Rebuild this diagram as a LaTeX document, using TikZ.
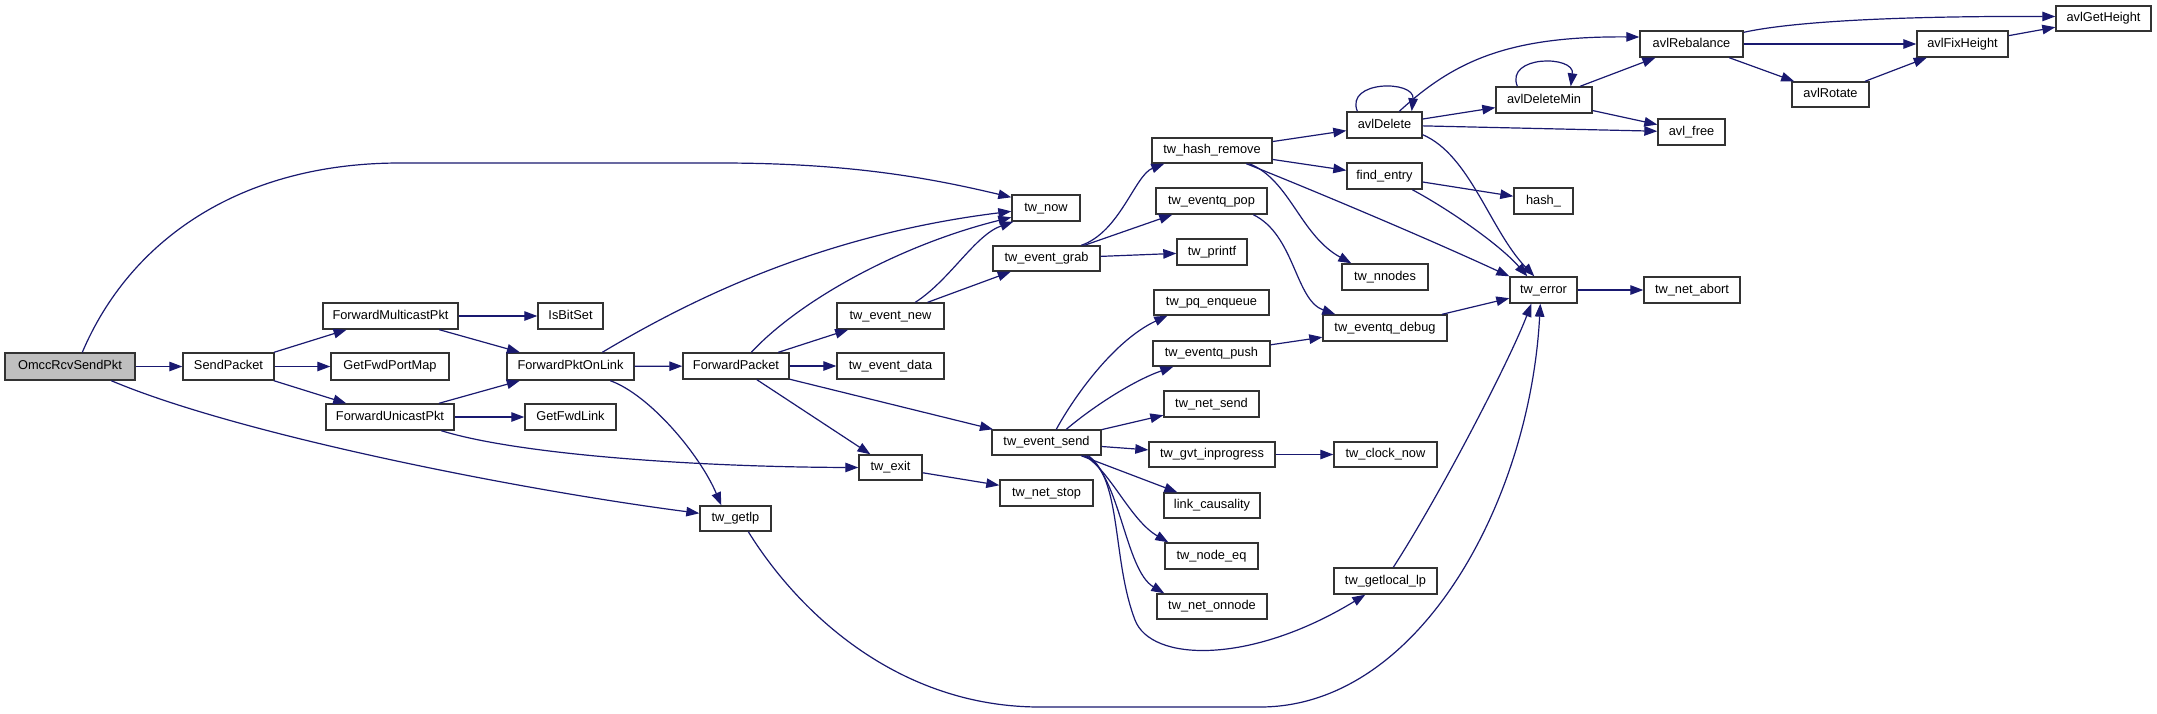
\documentclass[tikz,border=0pt]{standalone}
\usepackage{fontspec}
\setmainfont{Liberation Sans}
\usetikzlibrary{arrows.meta,calc}
\definecolor{edgec}{HTML}{191970}
\definecolor{rootfill}{HTML}{BFBFBF}
\newcommand\bx[7][]{\node[box,#1,minimum width={(#5)-(#3)},minimum height={(#6)-(#4)}] (#2) at ({((#3)+(#5))/2},{((#4)+(#6))/2}) {#7};}
\begin{document}
\begin{tikzpicture}[x=1pt,y=-1pt,
  box/.style={draw=black!80, line width=1.4pt, fill=white, inner sep=0pt,
    font=\fontsize{12.8}{14}\selectfont, text height=9.3pt, text depth=2.7pt},
  edge/.style={draw=edgec, line width=1.2pt, -{Triangle[length=13pt,width=9.5pt]}},
]
\useasboundingbox (0,0) rectangle (2157,713);
\fill[white] (0,0) rectangle (2157,713);

\bx[fill=rootfill]{orn}{5}{353}{135}{380}{OmccRcvSendPkt}
\bx{send}{183}{353}{274}{380}{SendPacket}
\bx{fmc}{323}{303}{458}{329}{ForwardMulticastPkt}
\bx{gfpm}{331}{353}{449}{380}{GetFwdPortMap}
\bx{fuc}{326}{404}{454}{430}{ForwardUnicastPkt}
\bx{isb}{538}{303}{603}{329}{IsBitSet}
\bx{fpol}{507}{353}{634}{380}{ForwardPktOnLink}
\bx{gfl}{525}{404}{616}{430}{GetFwdLink}
\bx{fp}{683}{353}{789}{379}{ForwardPacket}
\bx{twnow}{1012}{195}{1080}{221}{tw\_now}
\bx{evnew}{837}{303}{944}{329}{tw\_event\_new}
\bx{evdata}{837}{353}{944}{379}{tw\_event\_data}
\bx{exit}{859}{455}{922}{480}{tw\_exit}
\bx{getlp}{700}{506}{771}{531}{tw\_getlp}
\bx{grab}{993}{246}{1100}{271}{tw\_event\_grab}
\bx{evsend}{992}{430}{1101}{455}{tw\_event\_send}
\bx{netstop}{1000}{480}{1093}{506}{tw\_net\_stop}
\bx{hashrm}{1152}{138}{1272}{163}{tw\_hash\_remove}
\bx{qpop}{1156}{188}{1267}{214}{tw\_eventq\_pop}
\bx{printf}{1177}{239}{1247}{265}{tw\_printf}
\bx{pqenq}{1154}{290}{1269}{315}{tw\_pq\_enqueue}
\bx{qpush}{1153}{341}{1270}{366}{tw\_eventq\_push}
\bx{netsend}{1164}{391}{1259}{417}{tw\_net\_send}
\bx{gvt}{1149}{442}{1275}{467}{tw\_gvt\_inprogress}
\bx{link}{1164}{493}{1260}{518}{link\_causality}
\bx{nodeeq}{1165}{543}{1258}{569}{tw\_node\_eq}
\bx{onnode}{1157}{594}{1267}{619}{tw\_net\_onnode}
\bx{avldel}{1347}{112}{1422}{138}{avlDelete}
\bx{find}{1347}{163}{1422}{189}{find\_entry}
\bx{nnodes}{1342}{264}{1428}{290}{tw\_nnodes}
\bx{qdebug}{1323}{315}{1447}{341}{tw\_eventq\_debug}
\bx{clock}{1334}{442}{1437}{467}{tw\_clock\_now}
\bx{getlocal}{1334}{568}{1437}{594}{tw\_getlocal\_lp}
\bx{avldm}{1496}{87}{1592}{113}{avlDeleteMin}
\bx{hash}{1514}{188}{1573}{214}{hash\_}
\bx{err}{1510}{277}{1577}{303}{tw\_error}
\bx{avlreb}{1640}{31}{1743}{57}{avlRebalance}
\bx{avlfree}{1658}{119}{1725}{145}{avl\_free}
\bx{avlrot}{1792}{82}{1869}{107}{avlRotate}
\bx{avlfix}{1917}{31}{2008}{57}{avlFixHeight}
\bx{abort}{1644}{277}{1740}{303}{tw\_net\_abort}
\bx{avlgh}{2056}{6}{2151}{31}{avlGetHeight}

% OmccRcvSendPkt
\draw[edge] (orn) -- (send);
\draw[edge] ($(orn.north west)+(78,0)$) .. controls (130,240) and (240,163) .. (400,163) -- (720,163) .. controls (850,163) and (930,178) .. ($(twnow.north west)+(0,3)$);
\draw[edge] ($(orn.south west)+(107,0)$) .. controls (240,435) and (520,490) .. ($(getlp.north west)+(0,8)$);
% SendPacket
\draw[edge] (send) -- (fmc);
\draw[edge] (send) -- (gfpm);
\draw[edge] (send) -- (fuc);
% ForwardMulticastPkt / ForwardUnicastPkt
\draw[edge] (fmc) -- (isb);
\draw[edge] (fmc) -- (fpol);
\draw[edge] (fuc) -- (fpol);
\draw[edge] (fuc) -- (gfl);
\draw[edge] ($(fuc.south west)+(116,0)$) .. controls (520,455) and (700,467) .. (exit.west);
% ForwardPktOnLink
\draw[edge] (fpol) -- (fp);
\draw[edge] ($(fpol.north west)+(96,0)$) .. controls (690,300) and (820,235) .. ($(twnow.north west)+(0,17)$);
\draw[edge] ($(fpol.south west)+(104,0)$) .. controls (650,395) and (700,455) .. ($(getlp.north west)+(22,0)$);
% ForwardPacket
\draw[edge] (fp) -- (evnew);
\draw[edge] (fp) -- (evdata);
\draw[edge] (fp) -- (exit);
\draw[edge] (fp) -- (evsend);
\draw[edge] ($(fp.north west)+(69,0)$) .. controls (800,300) and (900,245) .. ($(twnow.north west)+(0,23)$);
% tw_event_new
\draw[edge] ($(evnew.north west)+(79,0)$) .. controls (950,280) and (975,235) .. ($(twnow.south west)+(2,0)$);
\draw[edge] (evnew) -- (grab);
% tw_event_grab
\draw[edge] ($(grab.north west)+(89,0)$) .. controls (1120,232) and (1135,175) .. ($(hashrm.south west)+(13,0)$);
\draw[edge] (grab) -- (qpop);
\draw[edge] (grab) -- (printf);
% tw_exit, tw_getlp
\draw[edge] (exit) -- (netstop);
\draw[edge] ($(getlp.south west)+(49,0)$) .. controls (800,615) and (900,707) .. (1040,707) -- (1260,707) .. controls (1420,707) and (1530,500) .. ($(err.south west)+(31,0)$);
% tw_event_send
\draw[edge] ($(evsend.north west)+(65,0)$) .. controls (1075,395) and (1115,340) .. ($(pqenq.south west)+(14,0)$);
\draw[edge] ($(evsend.north west)+(75,0)$) .. controls (1095,405) and (1135,380) .. ($(qpush.south west)+(21,0)$);
\draw[edge] (evsend) -- (netsend);
\draw[edge] (evsend) -- (gvt);
\draw[edge] (evsend) -- (link);
\draw[edge] ($(evsend.south west)+(93,0)$) .. controls (1110,470) and (1130,520) .. ($(nodeeq.north west)+(4,0)$);
\draw[edge] ($(evsend.south west)+(95,0)$) .. controls (1120,475) and (1125,570) .. ($(onnode.north west)+(8,0)$);
\draw[edge] ($(evsend.south west)+(97,0)$) .. controls (1122,480) and (1112,560) .. (1135,620) .. controls (1151,662) and (1250,665) .. ($(getlocal.south west)+(32,0)$);
\draw[edge] (gvt) -- (clock);
% tw_hash_remove
\draw[edge] (hashrm) -- (avldel);
\draw[edge] (hashrm) -- (find);
\draw[edge] ($(hashrm.south west)+(98,0)$) .. controls (1290,180) and (1300,235) .. ($(nnodes.north west)+(10,0)$);
\draw[edge] ($(hashrm.south west)+(95,0)$) .. controls (1300,185) and (1420,235) .. (err.north west);
% tw_eventq_pop / push / debug
\draw[edge] ($(qpop.south west)+(98,0)$) .. controls (1295,235) and (1295,300) .. ($(qdebug.north west)+(13,0)$);
\draw[edge] (qpush) -- (qdebug);
\draw[edge] (qdebug) -- (err);
% avlDelete
\draw[edge] ($(avldel.north west)+(11,0)$) .. controls (1345,80) and (1415,80) .. ($(avldel.north east)+(-11,0)$);
\draw[edge] ($(avldel.north west)+(53,0)$) .. controls (1455,60) and (1510,36) .. ($(avlreb.west)+(0,-7)$);
\draw[edge] (avldel) -- (avldm);
\draw[edge] (avldel) -- (avlfree);
\draw[edge] ($(avldel.south east)+(0,-4)$) .. controls (1470,155) and (1490,230) .. ($(err.north west)+(25,0)$);
% avlDeleteMin
\draw[edge] ($(avldm.north west)+(22,0)$) .. controls (1505,55) and (1575,55) .. ($(avldm.north east)+(-22,0)$);
\draw[edge] (avldm) -- (avlreb);
\draw[edge] (avldm) -- (avlfree);
% find_entry, tw_getlocal_lp, tw_error
\draw[edge] (find) -- (hash);
\draw[edge] ($(find.south west)+(66,0)$) .. controls (1450,210) and (1500,245) .. ($(err.north west)+(18,0)$);
\draw[edge] ($(getlocal.north west)+(60,0)$) .. controls (1440,495) and (1510,360) .. ($(err.south west)+(22,0)$);
\draw[edge] (err) -- (abort);
% avlRebalance
\draw[edge] ($(avlreb.north east)+(0,2)$) .. controls (1800,20) and (1920,16) .. ($(avlgh.west)+(0,-2)$);
\draw[edge] (avlreb) -- (avlfix);
\draw[edge] (avlreb) -- (avlrot);
\draw[edge] (avlrot) -- (avlfix);
\draw[edge] (avlfix) -- (avlgh);
\end{tikzpicture}
\end{document}
